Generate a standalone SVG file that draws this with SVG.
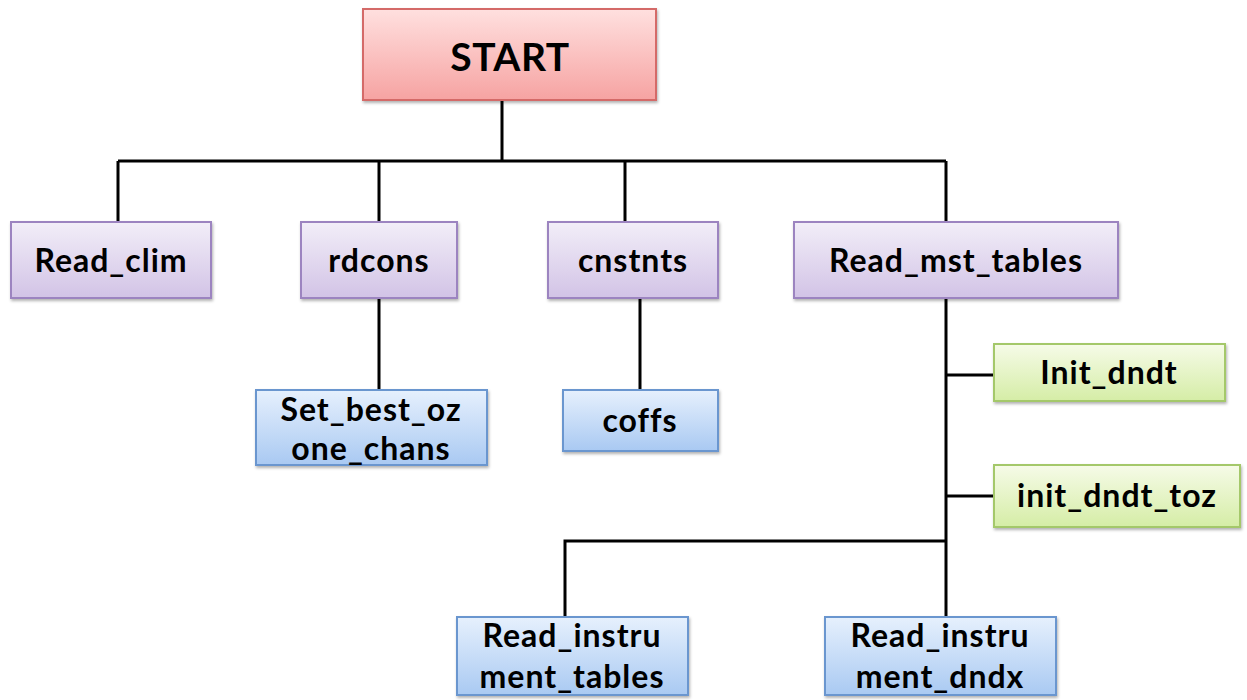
<svg xmlns="http://www.w3.org/2000/svg" width="1247" height="700" viewBox="0 0 1247 700">
<style>
text{font-family:Lato,"Open Sans","Liberation Sans",sans-serif;font-weight:bold;fill:#000;text-anchor:middle;font-size:32px;letter-spacing:1px}
.start{font-size:39px;letter-spacing:0.5px}
.red{fill:url(#gRed);stroke:#d46a68;stroke-width:2}
.pur{fill:url(#gPur);stroke:#9c84c0;stroke-width:2}
.blu{fill:url(#gBlu);stroke:#6b96cf;stroke-width:2}
.grn{fill:url(#gGrn);stroke:#a4c86a;stroke-width:2}
.box{filter:url(#sh)}
#connectors path{fill:none;stroke:#000;stroke-width:3}
</style>
<defs>
<linearGradient id="gRed" x1="0" y1="0" x2="0" y2="1"><stop offset="0" stop-color="#ffe0df"/><stop offset="1" stop-color="#f6a3a2"/></linearGradient>
<linearGradient id="gPur" x1="0" y1="0" x2="0" y2="1"><stop offset="0" stop-color="#f2eef8"/><stop offset="1" stop-color="#d2c3e6"/></linearGradient>
<linearGradient id="gBlu" x1="0" y1="0" x2="0" y2="1"><stop offset="0" stop-color="#e6f0fd"/><stop offset="1" stop-color="#a9c9f2"/></linearGradient>
<linearGradient id="gGrn" x1="0" y1="0" x2="0" y2="1"><stop offset="0" stop-color="#f6fbe8"/><stop offset="1" stop-color="#d5eda6"/></linearGradient>
<filter id="sh" x="-10%" y="-10%" width="120%" height="130%"><feDropShadow dx="1" dy="2" stdDeviation="1.5" flood-color="#000" flood-opacity="0.3"/></filter>
</defs>
<g id="connectors">
<path d="M502 100V161M118 161H946M118 161V222M379 161V222M625 161V222M946 161V222"/>
<path d="M379 298V390M640 298V390"/>
<path d="M946 298V617M946 375H994M946 496H994M946 541H565V617"/>
</g>
<g id="start"><rect class="red box" x="363" y="9" width="293" height="91"/><text class="start" x="510" y="71">START</text></g>
<g id="read_clim"><rect class="pur box" x="11" y="222" width="200" height="76"/><text x="111" y="272">Read_clim</text></g>
<g id="rdcons"><rect class="pur box" x="301" y="222" width="156" height="76"/><text x="379" y="272">rdcons</text></g>
<g id="cnstnts"><rect class="pur box" x="548" y="222" width="170" height="76"/><text x="633" y="272">cnstnts</text></g>
<g id="read_mst_tables"><rect class="pur box" x="794" y="222" width="324" height="76"/><text x="956" y="272">Read_mst_tables</text></g>
<g id="set_best_ozone_chans"><rect class="blu box" x="256" y="390" width="231" height="75"/><text x="371" y="421">Set_best_oz</text><text x="371" y="460">one_chans</text></g>
<g id="coffs"><rect class="blu box" x="563" y="390" width="155" height="61"/><text x="640" y="432">coffs</text></g>
<g id="init_dndt"><rect class="grn box" x="994" y="344" width="231" height="57"/><text x="1109" y="384">Init_dndt</text></g>
<g id="init_dndt_toz"><rect class="grn box" x="994" y="465" width="246" height="62"/><text x="1117" y="507">init_dndt_toz</text></g>
<g id="read_instrument_tables"><rect class="blu box" x="457" y="617" width="231" height="78"/><text x="572" y="647">Read_instru</text><text x="572" y="688">ment_tables</text></g>
<g id="read_instrument_dndx"><rect class="blu box" x="825" y="617" width="231" height="78"/><text x="940" y="647">Read_instru</text><text x="940" y="688">ment_dndx</text></g>
</svg>
